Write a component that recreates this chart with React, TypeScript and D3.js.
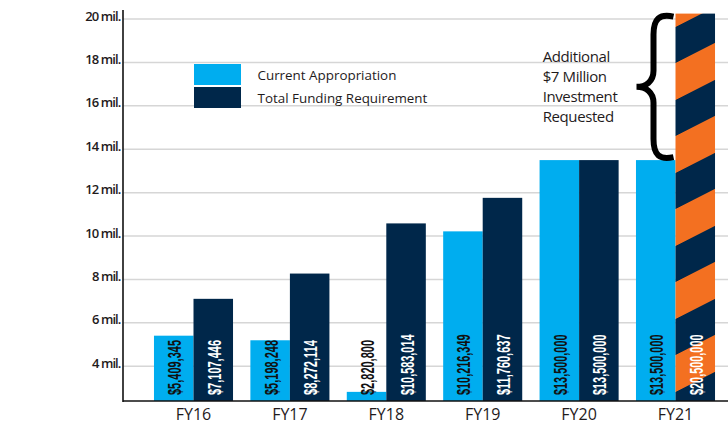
import React from "react";
import * as d3 from "d3";

const categories = ["FY16", "FY17", "FY18", "FY19", "FY20", "FY21"];
const currentAppropriation = [5409345, 5198248, 2820800, 10216349, 13500000, 13500000];
const totalFunding = [7107446, 8272114, 10583014, 11760637, 13500000, 20500000];
const yTicks = [4, 6, 8, 10, 12, 14, 16, 18, 20];
const seriesNames = ["Current Appropriation", "Total Funding Requirement"];
const annotationLines = ["Additional", "$7 Million", "Investment", "Requested"];

const W = 728;
const H = 424;
const AXIS_X = 123;
const BLUE = "#00adef";
const NAVY = "#00274a";
const ORANGE = "#f37021";
const GRID = "#d6d6d6";
const TEXT = "#1f1b1c";
const SANS = "'Open Sans', 'Noto Sans', sans-serif";

const fmt = (v: number) => "$" + d3.format(",")(v);

export default function App() {
  const x0 = d3
    .scaleBand<string>()
    .domain(categories)
    .range([145.3, 723.7])
    .paddingInner(0.18)
    .paddingOuter(0.09);
  const x1 = d3
    .scaleBand<string>()
    .domain(["current", "total"])
    .range([0, x0.bandwidth()]);
  const y = d3.scaleLinear().domain([2.4, 20.25]).range([401, 13.6]).clamp(true);
  const yB = y(2.4);

  const bars: {
    key: string;
    x: number;
    w: number;
    v: number;
    kind: "current" | "total";
    striped: boolean;
  }[] = [];
  categories.forEach((c, i) => {
    bars.push({ key: c + "c", x: x0(c)! + x1("current")!, w: x1.bandwidth(), v: currentAppropriation[i], kind: "current", striped: false });
    bars.push({ key: c + "t", x: x0(c)! + x1("total")!, w: x1.bandwidth(), v: totalFunding[i], kind: "total", striped: i === categories.length - 1 });
  });

  const last = categories.length - 1;
  const stripeX = x0(categories[last])! + x1("total")!;
  const braceTop = y(totalFunding[last] / 1e6) + 1;
  const braceBot = y(currentAppropriation[last] / 1e6) - 1;
  const braceMid = (braceTop + braceBot) / 2;
  const R = stripeX - 2;
  const S = R - 20;
  const L = R - 37;
  const bracePath = [
    `M ${R} ${braceTop + 2}`,
    `C ${R - 14} ${braceTop - 1}, ${S} ${braceTop + 4}, ${S} ${braceTop + 20}`,
    `L ${S} ${braceMid - 16}`,
    `C ${S} ${braceMid - 5}, ${S - 8} ${braceMid}, ${L} ${braceMid}`,
    `C ${S - 8} ${braceMid}, ${S} ${braceMid + 5}, ${S} ${braceMid + 16}`,
    `L ${S} ${braceBot - 20}`,
    `C ${S} ${braceBot - 4}, ${R - 14} ${braceBot + 1}, ${R} ${braceBot - 2}`,
  ].join(" ");

  return (
    <svg
      width={W}
      height={H}
      style={{ position: "absolute", left: 0, top: 0, background: "#fff" }}
      fontFamily={SANS}
    >
      <defs>
        <pattern
          id="stripes"
          patternUnits="userSpaceOnUse"
          width={200}
          height={73}
          patternTransform={`translate(${stripeX}, 63) skewY(-27)`}
        >
          <rect x={0} y={0} width={200} height={73} fill={NAVY} />
          <rect x={0} y={0} width={200} height={37} fill={ORANGE} />
        </pattern>
      </defs>

      {/* grid lines */}
      {yTicks.map((t) => (
        <line key={"g" + t} x1={AXIS_X} x2={W} y1={y(t)} y2={y(t)} stroke={GRID} strokeWidth={1.5} />
      ))}

      {/* y tick labels */}
      {yTicks.map((t) => (
        <text
          key={"yl" + t}
          x={AXIS_X - 2.5}
          y={y(t) + 1.5}
          textAnchor="end"
          fontSize={13}
          fontWeight={600}
          letterSpacing={-0.9}
          fill={TEXT}
        >
          {`${t} mil.`}
        </text>
      ))}

      {/* bars */}
      {bars.map((b) => (
        <rect
          key={b.key}
          x={b.x}
          y={y(b.v / 1e6)}
          width={b.w}
          height={yB - y(b.v / 1e6)}
          fill={b.striped ? "url(#stripes)" : b.kind === "current" ? BLUE : NAVY}
        />
      ))}

      {/* bar value labels */}
      {bars.map((b) => {
        const s = fmt(b.v);
        return (
          <text
            key={"l" + b.key}
            transform={`translate(${b.x + b.w / 2 + 1.5}, ${yB - 6}) rotate(-90)`}
            textAnchor="start"
            dominantBaseline="central"
            fontSize={17.5}
            fontWeight={700}
            fontFamily="'Liberation Sans', Arial, sans-serif"
            textLength={5.5 * s.length}
            lengthAdjust="spacingAndGlyphs"
            fill={b.kind === "current" ? "#111" : "#fff"}
          >
            {s}
          </text>
        );
      })}

      {/* axes */}
      <line x1={AXIS_X} x2={AXIS_X} y1={10} y2={yB + 1} stroke="#111" strokeWidth={1.6} />
      <line x1={AXIS_X} x2={W} y1={yB} y2={yB} stroke="#111" strokeWidth={1.6} />

      {/* x labels */}
      {categories.map((c) => (
        <text
          key={"x" + c}
          x={x0(c)! + x0.bandwidth() / 2}
          y={420}
          textAnchor="middle"
          fontSize={16}
          fontWeight={500}
          fill={TEXT}
        >
          {c}
        </text>
      ))}

      {/* legend */}
      <rect x={194} y={64} width={47} height={21} fill={BLUE} />
      <rect x={194} y={87} width={47} height={21} fill={NAVY} />
      <text x={257.5} y={80} fontSize={13.4} fill={TEXT}>
        {seriesNames[0]}
      </text>
      <text x={257.5} y={102.5} fontSize={13.4} fill={TEXT}>
        {seriesNames[1]}
      </text>

      {/* annotation */}
      <path d={bracePath} fill="none" stroke="#000" strokeWidth={6} strokeLinecap="butt" />
      {annotationLines.map((t, i) => (
        <text key={"a" + i} x={542.7} y={61.7 + i * 20} fontSize={15} letterSpacing={-0.4} fill={TEXT}>
          {t}
        </text>
      ))}
    </svg>
  );
}
